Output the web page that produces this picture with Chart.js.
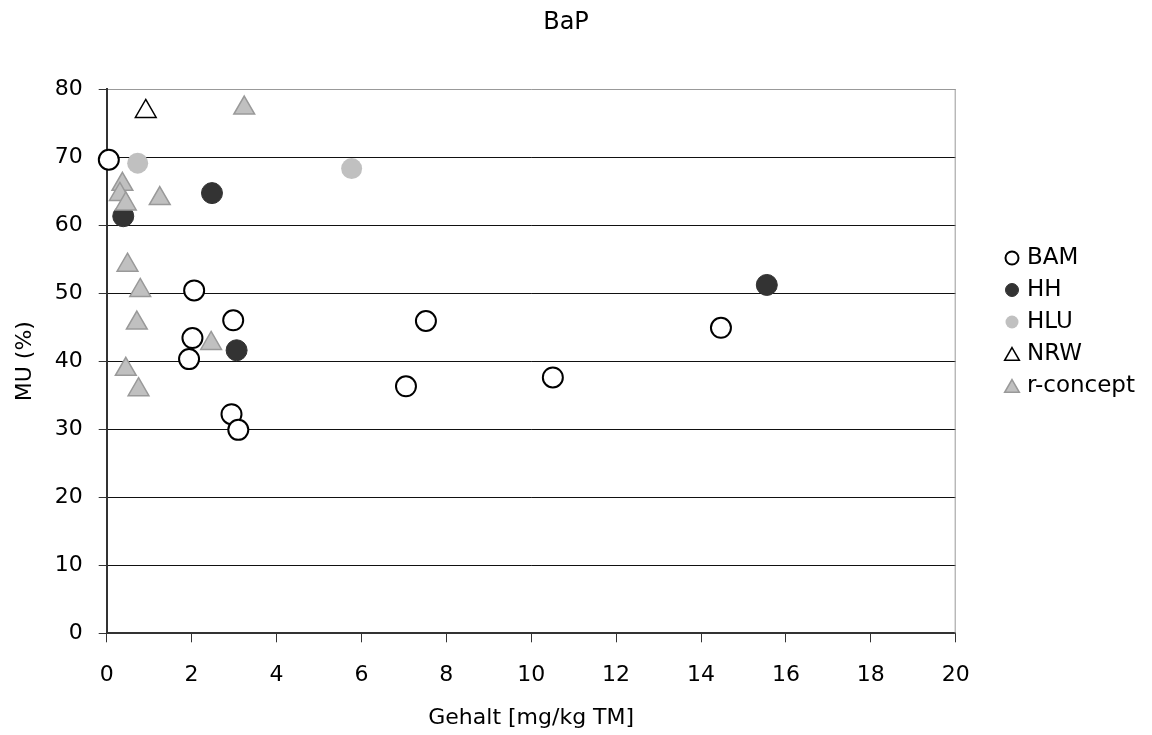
<!DOCTYPE html>
<html>
<head>
<meta charset="utf-8">
<title>BaP</title>
<script src="https://cdn.jsdelivr.net/npm/chart.js@4"></script>
<style>
  html, body { margin: 0; padding: 0; background: #fff; }
  #wrap { width: 1152px; height: 735px; }
</style>
</head>
<body>
<div id="wrap"><canvas id="chart" width="1152" height="735"></canvas></div>
<script>
// Werte (Gehalt, MU)
const bamX = [0.05, 2.06, 2.98, 2.02, 1.94, 2.94, 3.10, 7.05, 7.52, 10.51, 14.47];
const bamY = [69.6, 50.4, 46.0, 43.4, 40.3, 32.2, 29.9, 36.3, 45.9, 37.6, 44.9];

const hhX = [2.48, 0.39, 3.06, 15.55];
const hhY = [64.7, 61.3, 41.6, 51.2];

const hluX = [0.73, 5.77];
const hluY = [69.1, 68.3];

const nrwX = [0.92];
const nrwY = [76.7];

const rcX = [3.24, 0.37, 0.31, 0.45, 1.25, 0.49, 0.79, 0.71, 2.46, 0.45, 0.75];
const rcY = [77.2, 66.0, 64.5, 63.1, 63.9, 54.1, 50.4, 45.6, 42.6, 38.8, 35.8];

const seriesNames = ["BAM", "HH", "HLU", "NRW", "r-concept"];
const chartTitle = "BaP";
const xTitle = "Gehalt [mg/kg TM]";
const yTitle = "MU (%)";

const FONT = "'DejaVu Sans', sans-serif";

function toPoints(xs, ys) {
    return xs.map((x, i) => ({ x: x, y: ys[i] }));
}

// Titel, rechter Rahmen und Legende selbst zeichnen
const extras = {
    id: "extras",
    beforeDatasetsDraw(chart) {
        const ctx = chart.ctx;
        const a = chart.chartArea;
        ctx.save();
        ctx.strokeStyle = "#999";
        ctx.lineWidth = 1;
        ctx.beginPath();
        ctx.moveTo(a.right - 0.5, a.top);
        ctx.lineTo(a.right - 0.5, a.bottom);
        ctx.stroke();
        ctx.restore();
    },
    afterDraw(chart) {
        const ctx = chart.ctx;
        ctx.save();
        ctx.fillStyle = "#000";
        ctx.font = "24px " + FONT;
        ctx.textAlign = "center";
        ctx.textBaseline = "middle";
        ctx.fillText(chartTitle, 566, 23);

        const lx = 1012, ly = 258, step = 32;
        chart.data.datasets.forEach((ds, i) => {
            const y = ly + i * step;
            ctx.fillStyle = ds.backgroundColor;
            ctx.strokeStyle = ds.borderColor;
            ctx.lineWidth = ds.borderWidth;
            Chart.helpers.drawPoint(ctx, {
                pointStyle: ds.pointStyle,
                radius: ds.pointStyle === "triangle" ? 8.5 : 6.5,
                borderWidth: ds.borderWidth,
                rotation: 0
            }, lx, ds.pointStyle === "triangle" ? y + 2 : y);
            ctx.fillStyle = "#000";
            ctx.font = "23px " + FONT;
            ctx.textAlign = "left";
            ctx.textBaseline = "middle";
            ctx.fillText(ds.label, 1027, y);
        });
        ctx.restore();
    }
};

new Chart(document.getElementById("chart"), {
    type: "scatter",
    data: {
        datasets: [
            {
                label: seriesNames[0],
                data: toPoints(bamX, bamY),
                pointStyle: "circle",
                pointRadius: 10,
                backgroundColor: "#ffffff",
                borderColor: "#000000",
                borderWidth: 2,
                order: 5,
                clip: false
            },
            {
                label: seriesNames[1],
                data: toPoints(hhX, hhY),
                pointStyle: "circle",
                pointRadius: 10.5,
                backgroundColor: "#333333",
                borderColor: "#333333",
                borderWidth: 1,
                order: 4,
                clip: false
            },
            {
                label: seriesNames[2],
                data: toPoints(hluX, hluY),
                pointStyle: "circle",
                pointRadius: 10.5,
                backgroundColor: "#c0c0c0",
                borderColor: "#c0c0c0",
                borderWidth: 0,
                order: 3,
                clip: false
            },
            {
                label: seriesNames[3],
                data: toPoints(nrwX, nrwY),
                pointStyle: "triangle",
                pointRadius: 12,
                backgroundColor: "#ffffff",
                borderColor: "#000000",
                borderWidth: 1.5,
                order: 2,
                clip: false
            },
            {
                label: seriesNames[4],
                data: toPoints(rcX, rcY),
                pointStyle: "triangle",
                pointRadius: 12,
                backgroundColor: "#c0c0c0",
                borderColor: "#999999",
                borderWidth: 1.5,
                order: 1,
                clip: false
            }
        ]
    },
    options: {
        responsive: false,
        animation: false,
        layout: { padding: { top: 89, right: 196.3, left: 0, bottom: 0 } },
        plugins: {
            legend: { display: false },
            title: { display: false },
            tooltip: { enabled: false }
        },
        scales: {
            x: {
                type: "linear",
                min: 0,
                max: 20,
                ticks: { stepSize: 2, padding: 20, color: "#000", font: { size: 22, family: FONT } },
                grid: { drawOnChartArea: false, tickLength: 9, tickColor: "#333", tickWidth: 1 },
                border: { color: "#333", width: 2 },
                title: {
                    display: true, text: xTitle, color: "#000",
                    font: { size: 22, family: FONT }, padding: { top: 0, bottom: 4 }
                },
                afterFit(s) { s.height = 101.7; }
            },
            y: {
                min: 0,
                max: 80,
                ticks: { stepSize: 10, padding: 16, color: "#000", font: { size: 22, family: FONT } },
                grid: {
                    color: c => (c.tick && c.tick.value === 80 ? "#999" : "#111"),
                    lineWidth: 1,
                    tickLength: 8,
                    tickColor: "#333"
                },
                border: { color: "#333", width: 2 },
                title: {
                    display: true, text: yTitle, color: "#000",
                    font: { size: 22, family: FONT }, padding: { top: 12, bottom: 0 }
                },
                afterFit(s) { s.width = 106.7; }
            }
        }
    },
    plugins: [extras]
});
</script>
</body>
</html>
